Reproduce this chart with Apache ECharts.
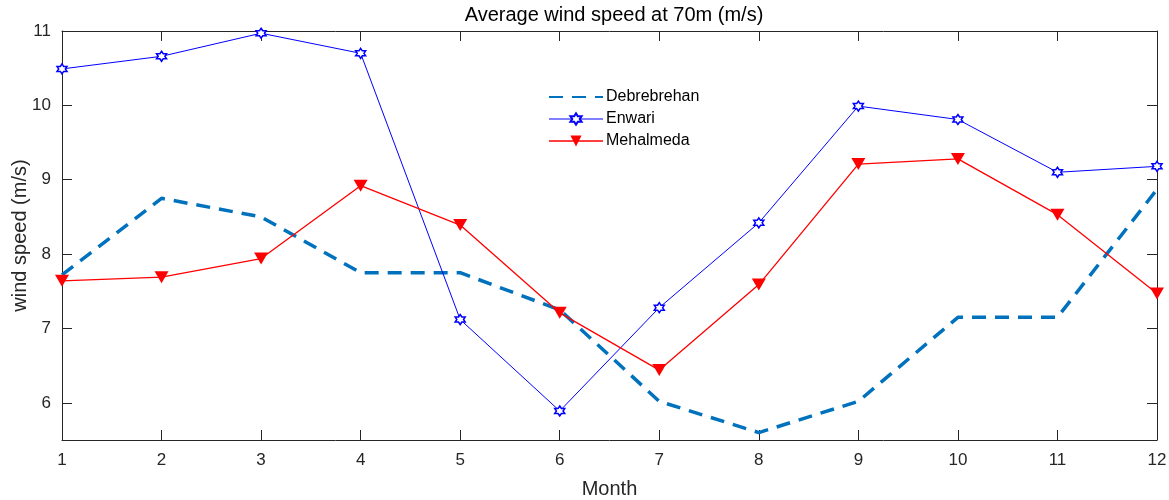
<!DOCTYPE html>
<html>
<head>
<meta charset="utf-8">
<script src="https://cdn.jsdelivr.net/npm/echarts@6/dist/echarts.min.js"></script>
<style>html,body{margin:0;padding:0;background:#fff}#c{width:1169px;height:500px}</style>
</head>
<body>
<div id="c"></div>
<script>
const months = [1,2,3,4,5,6,7,8,9,10,11,12];
const debrebrehan = [7.72, 8.75, 8.5, 7.75, 7.75, 7.25, 6.02, 5.6, 6.02, 7.15, 7.15, 8.87];
const enwari = [10.49, 10.66, 10.97, 10.7, 7.12, 5.89, 7.28, 8.42, 9.99, 9.81, 9.1, 9.18];
const mehalmeda = [7.64, 7.69, 7.94, 8.92, 8.39, 7.21, 6.44, 7.59, 9.21, 9.28, 8.53, 7.47];
const yTicks = [6, 7, 8, 9, 10, 11];
const xTicks = months;

const pair = arr => months.map((m, i) => [m, arr[i]]);
const hexagram = 'path://M0,-1L0.289,-0.5L0.866,-0.5L0.577,0L0.866,0.5L0.289,0.5L0,1L-0.289,0.5L-0.866,0.5L-0.577,0L-0.866,-0.5L-0.289,-0.5Z';
const font = "'Liberation Sans', Arial, Helvetica, sans-serif";
const axisCol = '#262626';

const chart = echarts.init(document.getElementById('c'), null, {renderer: 'canvas'});
const baseX = {
  type: 'value', min: 1, max: 12, interval: 1,
  axisLine: {show: true, onZero: false, lineStyle: {color: axisCol, width: 1}},
  axisTick: {show: true, inside: true, length: 10, lineStyle: {color: axisCol}},
  splitLine: {show: false}
};
const baseY = {
  type: 'value', min: 5.5, max: 11,
  axisLine: {show: true, onZero: false, lineStyle: {color: axisCol, width: 1}},
  axisTick: {show: true, inside: true, length: 10, customValues: yTicks, lineStyle: {color: axisCol}},
  splitLine: {show: false}
};
chart.setOption({
  animation: false,
  backgroundColor: '#fff',
  title: {
    text: 'Average wind speed at 70m (m/s)', left: 609, top: 0, textAlign: 'center',
    textStyle: {fontFamily: font, fontSize: 20, fontWeight: 'normal', color: '#000'}
  },
  grid: {left: 62, right: 12, top: 31, bottom: 60, containLabel: false, outerBoundsMode: 'none'},
  legend: {
    orient: 'vertical', left: 543, top: 84, itemWidth: 54, itemHeight: 14, itemGap: 6,
    textStyle: {fontFamily: font, fontSize: 16, color: '#000', padding: [0, 0, 0, -2]},
    data: [
      {name: 'Debrebrehan', itemStyle: {opacity: 0}},
      {name: 'Enwari', lineStyle: {width: 1}},
      {name: 'Mehalmeda', lineStyle: {width: 1.3}}
    ]
  },
  xAxis: [
    Object.assign({}, baseX, {
      position: 'bottom', name: 'Month', nameLocation: 'middle', nameGap: 39, nameMoveOverlap: false,
      nameTextStyle: {fontFamily: font, fontSize: 20, color: axisCol},
      axisLabel: {show: true, margin: 12, fontFamily: font, fontSize: 17, color: axisCol, formatter: v => xTicks.includes(v) ? String(v) : ''}
    }),
    Object.assign({}, baseX, {position: 'top', axisLabel: {show: false}})
  ],
  yAxis: [
    Object.assign({}, baseY, {
      position: 'left', name: 'wind speed (m/s)', nameLocation: 'middle', nameGap: 32, nameMoveOverlap: false,
      nameTextStyle: {fontFamily: font, fontSize: 20, color: axisCol},
      axisLabel: {show: true, margin: 11, customValues: yTicks, fontFamily: font, fontSize: 17, color: axisCol}
    }),
    Object.assign({}, baseY, {position: 'right', axisLabel: {show: false}})
  ],
  series: [
    {
      name: 'Debrebrehan', type: 'line', data: pair(debrebrehan), symbol: 'none',
      lineStyle: {color: '#0072BD', width: 3.5, type: [14, 9]},
      itemStyle: {color: '#0072BD'}, z: 2
    },
    {
      name: 'Enwari', type: 'line', data: pair(enwari), symbol: hexagram, symbolSize: 10,
      lineStyle: {color: '#0000FF', width: 1},
      itemStyle: {color: '#ffffff', borderColor: '#0000FF', borderWidth: 1.5}, z: 3
    },
    {
      name: 'Mehalmeda', type: 'line', data: pair(mehalmeda), symbol: 'triangle', symbolRotate: 180, symbolSize: [14, 12],
      lineStyle: {color: '#FF0000', width: 1.3},
      itemStyle: {color: '#FF0000', borderWidth: 0}, z: 4
    }
  ]
});
</script>
</body>
</html>
